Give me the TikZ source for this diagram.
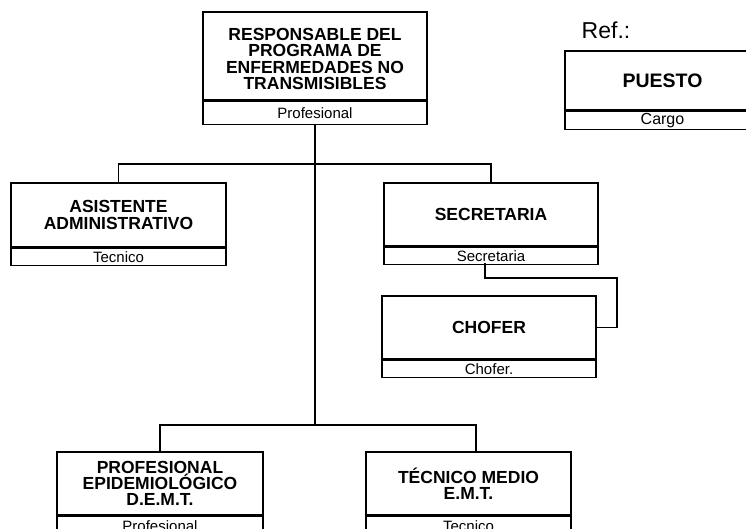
\documentclass[tikz,border=0pt]{standalone}
\usepackage{fontspec}
\setmainfont{Liberation Sans}
\begin{document}
\begin{tikzpicture}[x=1pt,y=-1pt,
  upper/.style={draw, line width=1.5pt, inner sep=0pt, align=center, font=\fontsize{17.5}{16.2}\selectfont\bfseries},
  lower/.style={draw, line width=1.5pt, inner sep=0pt, anchor=north, font=\fontsize{15}{15}\selectfont},
  conn/.style={line width=1.5pt}]
\useasboundingbox (0,0) rectangle (746,528);
\clip (0,0) rectangle (746,528);
% legend
\node[font=\fontsize{23}{23}\selectfont] (reftxt) at (606,30) {Ref.:};
\node[upper, minimum width=195pt, minimum height=59pt, font=\fontsize{19.5}{19.5}\selectfont\bfseries] (ref) at (662.5,80.5) {PUESTO};
\node[lower, minimum width=195pt, minimum height=18pt, font=\fontsize{16}{16}\selectfont] (refl) at (ref.south) {Cargo};
% boxes
\node[upper, minimum width=224pt, minimum height=88pt] (top) at (315,56) {};
\node[upper, draw=none] (toptxt) at (315,59) {RESPONSABLE DEL\\PROGRAMA DE\\ENFERMEDADES NO\\TRANSMISIBLES};
\node[lower, minimum width=224pt, minimum height=23pt] (topl) at (top.south) {Profesional};
\node[upper, minimum width=215pt, minimum height=64pt] (asist) at (118.5,215) {ASISTENTE\\ADMINISTRATIVO};
\node[lower, minimum width=215pt, minimum height=17pt] (asistl) at (asist.south) {Tecnico};
\node[upper, minimum width=214pt, minimum height=63pt] (secr) at (491,214.5) {SECRETARIA};
\node[lower, minimum width=214pt, minimum height=17pt] (secrl) at (secr.south) {Secretaria};
\node[upper, minimum width=214pt, minimum height=63pt] (chofer) at (489,327.5) {CHOFER};
\node[lower, minimum width=214pt, minimum height=17pt] (choferl) at (chofer.south) {Chofer.};
\node[upper, minimum width=206pt, minimum height=63pt] (prof) at (160,483.5) {PROFESIONAL\\EPIDEMIOLÓGICO\\D.E.M.T.};
\node[lower, minimum width=206pt, minimum height=20pt] (profl) at (prof.south) {Profesional};
\node[upper, minimum width=205pt, minimum height=63pt] (tecn) at (468.5,483.5) {TÉCNICO MEDIO\\E.M.T.};
\node[lower, minimum width=205pt, minimum height=20pt] (tecnl) at (tecn.south) {Tecnico};
% connectors
\coordinate (j1) at (315,164);
\coordinate (j2) at (315,425);
\coordinate (tecnin) at (476,452);
\coordinate (s1) at (485,263);
\coordinate (s2) at (617,278);
\draw[conn] (topl.south) -- (j2);
\draw[conn] (asist.north) |- (j1) -| (secr.north);
\draw[conn] (prof.north) |- (j2) -| (tecnin);
\draw[conn] (s1) |- (s2) |- (chofer.east);
\end{tikzpicture}
\end{document}
